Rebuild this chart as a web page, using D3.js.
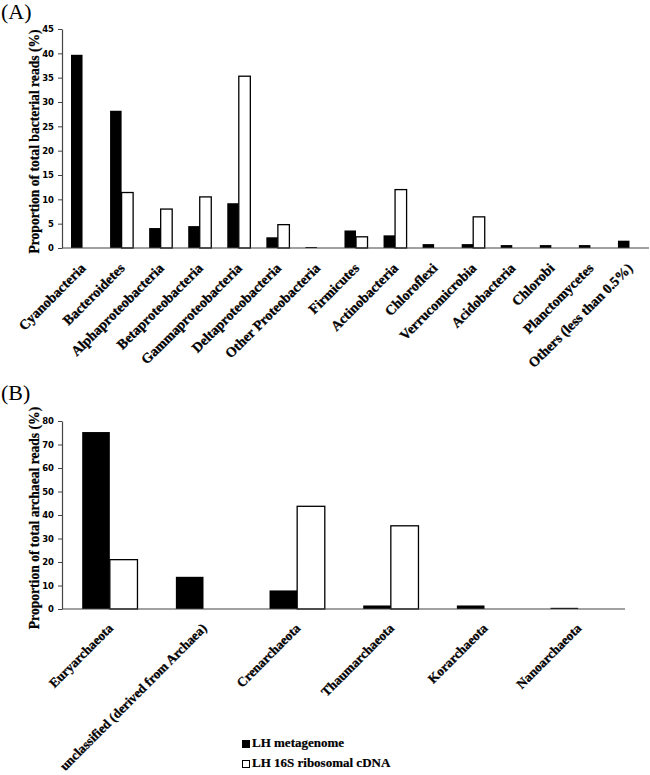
<!DOCTYPE html>
<html>
<head>
<meta charset="utf-8">
<script src="https://cdn.jsdelivr.net/npm/d3@7"></script>
<style>
  html, body { margin: 0; padding: 0; background: #fff; }
  svg { display: block; }
</style>
</head>
<body>
<svg id="chart" width="650" height="775"></svg>
<script>
// ---------- Data ----------
const categoriesA = ["Cyanobacteria", "Bacteroidetes", "Alphaproteobacteria", "Betaproteobacteria",
  "Gammaproteobacteria", "Deltaproteobacteria", "Other Proteobacteria", "Firmicutes",
  "Actinobacteria", "Chloroflexi", "Verrucomicrobia", "Acidobacteria", "Chlorobi",
  "Planctomycetes", "Others (less than 0.5%)"];
const metagenomeA = [39.7, 28.2, 4.1, 4.5, 9.2, 2.2, 0.2, 3.6, 2.6, 0.8, 0.8, 0.6, 0.6, 0.6, 1.5];
const cdnaA = [0, 11.4, 8.0, 10.5, 35.3, 4.8, 0, 2.3, 12.0, 0, 6.4, 0, 0, 0, 0];
const yTicksA = [0, 5, 10, 15, 20, 25, 30, 35, 40, 45];

const categoriesB = ["Euryarchaeota", "unclassified (derived from Archaea)", "Crenarchaeota",
  "Thaumarchaeota", "Korarchaeota", "Nanoarchaeota"];
const metagenomeB = [75.3, 13.7, 7.9, 1.5, 1.5, 0.5];
const cdnaB = [21.0, 0, 43.7, 35.4, 0, 0];
const yTicksB = [0, 10, 20, 30, 40, 50, 60, 70, 80];

const seriesNames = ["LH metagenome", "LH 16S ribosomal cDNA"];

// ---------- Drawing ----------
const svg = d3.select("#chart");
const serif = "'Liberation Serif', 'Times New Roman', serif";
const sans = "'DejaVu Sans', Verdana, sans-serif";

function panel(opts) {
  const { cats, s1, s2, ticks, yMax, x0, x1, yTop, yBottom, yTitle, tag, tagY, labelSize, labelDy } = opts;
  const g = svg.append("g");

  const x = d3.scaleBand().domain(cats).range([x0, x1]).padding(0);
  const y = d3.scaleLinear().domain([0, yMax]).range([yBottom, yTop]);
  const bw = x.bandwidth() * 0.295;

  // panel tag
  g.append("text").attr("x", 1).attr("y", tagY)
    .attr("font-family", serif).attr("font-size", 22).text(tag);

  // bars
  const rows = cats.map((c, i) => ({ c, a: s1[i], b: s2[i] }));
  g.selectAll(".barA").data(rows.filter(d => d.a > 0)).join("rect")
    .attr("x", d => x(d.c) + x.bandwidth() / 2 - bw)
    .attr("width", bw)
    .attr("y", d => y(d.a))
    .attr("height", d => y(0) - y(d.a))
    .attr("fill", "#000");
  g.selectAll(".barB").data(rows.filter(d => d.b > 0)).join("rect")
    .attr("x", d => x(d.c) + x.bandwidth() / 2)
    .attr("width", bw)
    .attr("y", d => y(d.b))
    .attr("height", d => y(0) - y(d.b))
    .attr("fill", "#fff").attr("stroke", "#000").attr("stroke-width", 1.3);

  // y axis
  const yAxis = g.append("g").attr("transform", `translate(${x0 - 1},0)`)
    .call(d3.axisLeft(y).tickValues(ticks).tickSize(4).tickSizeOuter(0).tickPadding(4));
  yAxis.select(".domain").attr("stroke", "#444").attr("stroke-width", 1.2);
  yAxis.selectAll(".tick line").attr("stroke", "#444");
  yAxis.selectAll("text").attr("font-family", sans).attr("font-weight", "bold")
    .attr("font-size", 8.5).attr("fill", "#000");

  // x axis
  const xAxis = g.append("g").attr("transform", `translate(0,${yBottom})`)
    .call(d3.axisBottom(x).tickSize(0).tickSizeOuter(0));
  xAxis.select(".domain").attr("stroke", "#444").attr("stroke-width", 1.2)
    .attr("d", `M${x0 - 1},0H${x1}`);
  xAxis.selectAll("text")
    .attr("x", 0).attr("y", 0).attr("dy", 0)
    .attr("transform", `translate(4,${labelDy}) rotate(-45)`)
    .attr("text-anchor", "end")
    .attr("font-family", serif).attr("font-weight", "bold")
    .attr("font-size", labelSize).attr("fill", "#000")
    .attr("stroke", "#000").attr("stroke-width", 0.3);

  // y title
  g.append("text")
    .attr("transform", `translate(38.5,${(yTop + yBottom) / 2 + 3}) rotate(-90)`)
    .attr("text-anchor", "middle")
    .attr("font-family", serif).attr("font-weight", "bold").attr("font-size", 13.6)
    .attr("stroke", "#000").attr("stroke-width", 0.25)
    .text(yTitle);
}

panel({
  cats: categoriesA, s1: metagenomeA, s2: cdnaA, ticks: yTicksA, yMax: 45,
  x0: 63, x1: 649, yTop: 29, yBottom: 248,
  yTitle: "Proportion of total bacterial reads (%)", tag: "(A)", tagY: 19,
  labelSize: 14, labelDy: 21
});

panel({
  cats: categoriesB, s1: metagenomeB, s2: cdnaB, ticks: yTicksB, yMax: 80,
  x0: 63, x1: 625, yTop: 421, yBottom: 609,
  yTitle: "Proportion of total archaeal reads (%)", tag: "(B)", tagY: 400,
  labelSize: 13.2, labelDy: 20
});

// legend
const legend = svg.append("g");
seriesNames.forEach((name, i) => {
  const ly = 747 + i * 20;
  legend.append("rect").attr("x", 242.5).attr("y", ly - 6.5).attr("width", 7).attr("height", 7)
    .attr("fill", i === 0 ? "#000" : "#fff").attr("stroke", "#000").attr("stroke-width", 1);
  legend.append("text").attr("x", 252).attr("y", ly)
    .attr("font-family", serif).attr("font-weight", "bold").attr("font-size", 13)
    .attr("stroke", "#000").attr("stroke-width", 0.2)
    .text(name);
});
</script>
</body>
</html>
